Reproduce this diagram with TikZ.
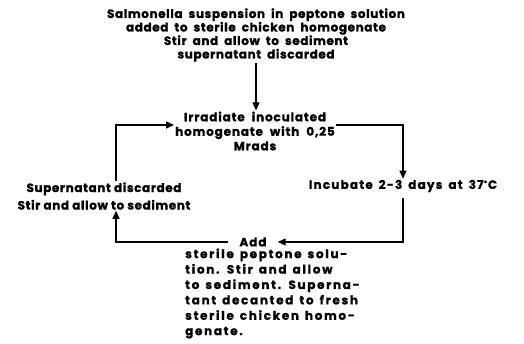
\documentclass[tikz,border=0pt]{standalone}
\usepackage{fontspec}
\setmainfont{Poppins}[BoldFeatures={FakeBold=1.1}]
\usetikzlibrary{arrows.meta,calc}
\newcommand\wsp[1]{\spaceskip=#1\relax}
\begin{document}
\begin{tikzpicture}[x=1pt,y=-1pt]
\tikzset{
  txt/.style={font=\bfseries\fontsize{12}{13.5}\selectfont, inner sep=1pt},
  arr/.style={line width=1.2pt, -{Triangle[length=8pt,width=7pt]}},
}
\useasboundingbox (0,0) rectangle (524,344);
\node[txt, align=center, font=\bfseries\fontsize{12}{13.5}\selectfont\addfontfeatures{LetterSpace=5}\wsp{6pt}] (top) at (256,35) {Salmonella suspension in peptone solution\\added to sterile chicken homogenate\\Stir and allow to sediment\\supernatant discarded};
\node[txt, align=center, font=\bfseries\fontsize{12}{14.5}\selectfont\addfontfeatures{LetterSpace=7}\wsp{7pt}] (irr) at (255,131) {Irradiate inoculated\\homogenate with 0,25\\Mrads};
\node[txt, font=\bfseries\fontsize{12}{14.5}\selectfont\addfontfeatures{LetterSpace=10}\wsp{6pt}] (inc) at (403,186) {Incubate 2-3 days at 37\textsuperscript{\textbullet}C};
\node[txt, align=center, font=\bfseries\fontsize{12}{17.5}\selectfont\addfontfeatures{LetterSpace=5}] (sup) at (104,196) {Supernatant discarded\\Stir and allow to sediment};
\node[txt, inner xsep=11pt, font=\bfseries\fontsize{12}{14}\selectfont\addfontfeatures{LetterSpace=8}] (add) at (253,242) {Add};
\node[txt, align=left, anchor=west, font=\bfseries\fontsize{12}{15.4}\selectfont\addfontfeatures{LetterSpace=14}\wsp{6pt}] (addtxt) at (184,293.5) {sterile peptone solu-\\tion. Stir and allow\\to sediment. Superna-\\tant decanted to fresh\\sterile chicken homo-\\genate.};
\coordinate (lx) at (116,0);
\draw[arr] (top.south) -- (top.south |- irr.north);
\draw[arr] ([yshift=6pt]irr.east) -| (inc.north);
\draw[arr] ([yshift=-5pt]inc.south) |- (add.east);
\draw[arr] (add.west) -| (lx |- sup.south);
\draw[arr] (lx |- sup.north) |- ([yshift=6pt]irr.west);
\end{tikzpicture}
\end{document}
